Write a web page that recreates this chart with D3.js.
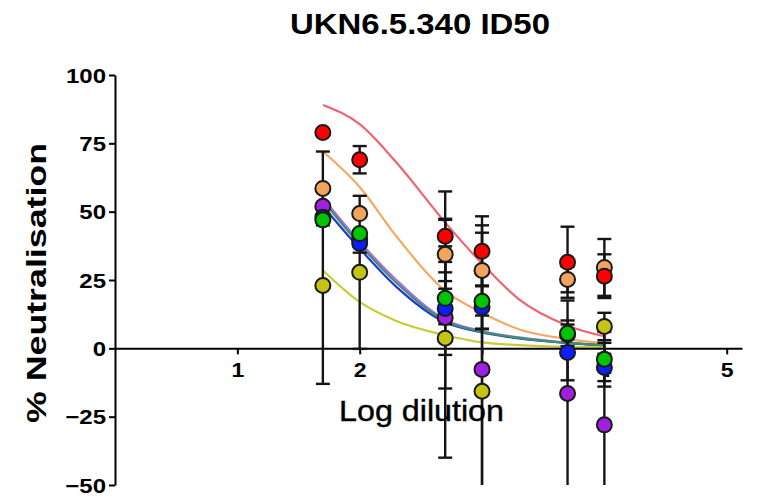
<!DOCTYPE html>
<html><head><meta charset="utf-8">
<script src="https://cdn.jsdelivr.net/npm/d3@7"></script>
<style>body{margin:0;background:#fff}svg{display:block}</style>
</head><body><svg id="c" width="761" height="498"></svg>
<script>
// ---- data ----
const logDilution = [1.699, 2, 2.699, 3, 3.699, 4];
const seriesNames = ["olive", "purple", "blue", "green", "orange", "red"];
const meanOlive  = [23, 27.8, 3.7, -15.7, 5, 8];
const meanPurple = [52, 40, 11.3, -7.7, -16.5, -28];
const meanBlue   = [48, 38.4, 14.6, 15, -1.5, -7];
const meanGreen  = [47, 42, 18.3, 17.2, 5.5, -4];
const meanOrange = [58.5, 49.3, 34.4, 28.5, 25.2, 29.6];
const meanRed    = [79, 69, 41, 35.5, 31.5, 26.4];
const sdOlive  = [36, 28, 43.7, 45, 0, 5];
const sdPurple = [0, 0, 26, 50, 34, 30];
const sdBlue   = [0, 3.4, 17, 8, 10.2, 5];
const sdGreen  = [0, 0, 9.5, 10, 4.7, 10];
const sdOrange = [13.5, 0, 12.6, 16.5, 4.7, 10.4];
const sdRed    = [0, 5, 16.4, 12.8, 13, 8];
// fitted curves
const curveX = [1.7, 2.0, 2.3, 2.7, 3.0, 3.3, 3.7, 4.0];
const curveOlive  = [28.5, 17, 10, 4.8, 2.2, 1.2, 0.5, 0.3];
const curvePurple = [55, 39, 25, 10.5, 6.3, 4, 2.1, 1.2];
const curveBlue   = [52, 36.5, 22.5, 9.5, 5.8, 3.6, 1.9, 1.0];
const curveGreen  = [54, 38, 24, 10, 6, 3.8, 2.0, 1.1];
const curveOrange = [72, 59, 41, 21, 13, 7, 3.4, 1.9];
const curveRed    = [89, 82, 68, 46, 31, 18, 8.3, 4.4];
const xTicks = [1, 2, 3, 4, 5];
const yTicks = [-50, -25, 0, 25, 50, 75, 100];
const titleText = "UKN6.5.340 ID50";
const xLabel = "Log dilution";
const yLabel = "% Neutralisation";

// ---- styles ----
const pointFill = {olive:"#c4c414", purple:"#a020e0", blue:"#0a1eff", green:"#00c400", orange:"#f2a35e", red:"#ff0000"};
const lineColor = {olive:"#c8cc34", purple:"#b866e6", blue:"#2238d0", green:"#38946a", orange:"#f5a862", red:"#ee6470"};
const curveOrder = ["red","orange","purple","blue","green","olive"];

const series = {
  olive:{m:meanOlive, sd:sdOlive, c:curveOlive},
  purple:{m:meanPurple, sd:sdPurple, c:curvePurple},
  blue:{m:meanBlue, sd:sdBlue, c:curveBlue},
  green:{m:meanGreen, sd:sdGreen, c:curveGreen},
  orange:{m:meanOrange, sd:sdOrange, c:curveOrange},
  red:{m:meanRed, sd:sdRed, c:curveRed}
};

const svg = d3.select("#c");
const x = d3.scaleLinear().domain([0, 5.125]).range([115, 742]);
const y = d3.scaleLinear().domain([-50, 100]).range([485, 75]);
const FONT = "'Liberation Sans', Arial, sans-serif";

function stretch(sel, f){ sel.each(function(){ const w=this.getComputedTextLength(); d3.select(this).attr("textLength", w*f).attr("lengthAdjust","spacingAndGlyphs"); }); }

// curves
const line = d3.line().x(d=>x(d[0])).y(d=>y(d[1])).curve(d3.curveMonotoneX);
curveOrder.forEach(n=>{
  svg.append("path").attr("d", line(curveX.map((v,i)=>[v, series[n].c[i]])))
    .attr("fill","none").attr("stroke", lineColor[n]).attr("stroke-width",2.2);
});

// axes
const yAxis = svg.append("g").attr("transform",`translate(${x(0)},0)`)
  .call(d3.axisLeft(y).tickValues(yTicks).tickSize(6).tickSizeOuter(0).tickPadding(3));
const xAxis = svg.append("g").attr("transform",`translate(0,${y(0)})`)
  .call(d3.axisBottom(x).tickValues(xTicks).tickFormat(d3.format("d")).tickSize(6).tickSizeOuter(0).tickPadding(8));
[yAxis, xAxis].forEach(a=>{
  a.selectAll("path,line").attr("stroke","#000").attr("stroke-width",2);
  a.selectAll("text").attr("font-family",FONT).attr("font-weight","bold").attr("font-size",20).attr("fill","#000");
});
yAxis.selectAll("text").attr("dy","0.36em");
stretch(yAxis.selectAll("text"), 1.2);
stretch(xAxis.selectAll("text"), 1.15);

// error bars
const clampY = v=>y(Math.max(-50, Math.min(100, v)));
const eb = svg.append("g").attr("stroke","#151515").attr("stroke-width",2.4);
seriesNames.forEach(n=>{
  const s = series[n];
  logDilution.forEach((xv,i)=>{
    const sd = s.sd[i]; if(!sd) return;
    const hi = s.m[i]+sd, lo = s.m[i]-sd;
    const px = x(xv);
    eb.append("line").attr("x1",px).attr("x2",px).attr("y1",clampY(hi)).attr("y2",clampY(lo));
    [hi, lo].forEach(v=>{ if(v<=100 && v>=-50) eb.append("line").attr("x1",px-7).attr("x2",px+7).attr("y1",y(v)).attr("y2",y(v)); });
  });
});

// points
seriesNames.forEach(n=>{
  svg.append("g").selectAll("circle").data(logDilution.map((xv,i)=>[xv, series[n].m[i]])).join("circle")
    .attr("cx",d=>x(d[0])).attr("cy",d=>y(d[1])).attr("r",7.5)
    .attr("fill",pointFill[n]).attr("stroke","#1a1a1a").attr("stroke-width",2);
});

// titles
svg.append("text").attr("x",420).attr("y",34).attr("text-anchor","middle")
  .attr("font-family",FONT).attr("font-weight","bold").attr("font-size",29).text(titleText)
  .attr("textLength",260).attr("lengthAdjust","spacingAndGlyphs");
svg.append("text").attr("x",421.5).attr("y",421).attr("text-anchor","middle")
  .attr("font-family",FONT).attr("font-size",29).attr("stroke","#000").attr("stroke-width",0.4).text(xLabel)
  .attr("textLength",165).attr("lengthAdjust","spacingAndGlyphs");
svg.append("text").attr("transform","translate(46,283) rotate(-90)").attr("text-anchor","middle")
  .attr("font-family",FONT).attr("font-weight","bold").attr("font-size",28).text(yLabel)
  .attr("textLength",280).attr("lengthAdjust","spacingAndGlyphs");
</script></body></html>
